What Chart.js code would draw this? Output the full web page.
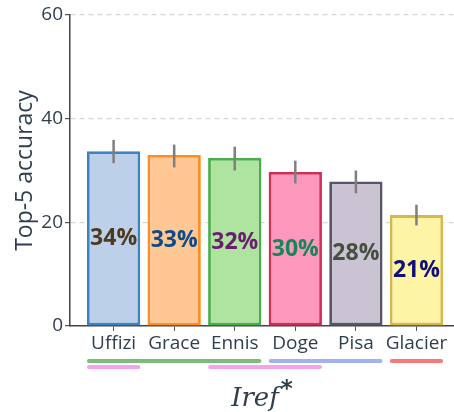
<!DOCTYPE html>
<html>
<head>
<meta charset="utf-8">
<script src="https://cdn.jsdelivr.net/npm/chart.js@4/dist/chart.umd.min.js"></script>
<style>
  html, body { margin: 0; padding: 0; background: #fff; }
  #wrap { width: 454px; height: 412px; }
</style>
</head>
<body>
<div id="wrap"><canvas id="accChart" width="454" height="412"></canvas></div>
<script>
// Top-5 accuracy per reference site
const sites = ['Uffizi', 'Grace', 'Ennis', 'Doge', 'Pisa', 'Glacier'];
const accuracy = [33.7, 33.0, 32.4, 29.7, 27.9, 21.4];
const errLow = [31.4, 30.6, 30.0, 27.5, 25.6, 19.4];
const errHigh = [35.9, 35.0, 34.6, 31.9, 30.0, 23.4];
const yTicks = [0, 20, 40, 60];

// which sites share a group, drawn as underlines below the axis
const groupFrom = [0, 0, 2, 3, 5];
const groupTo = [2, 0, 3, 4, 5];
const groupRow = [0, 1, 1, 0, 0];
const groupColor = ['#7dbb7d', '#f2a2ee', '#f2a2ee', '#a2b2ee', '#f77a7a'];

const fillColors = ['#bcd0ea', '#fec794', '#aee3a0', '#fd98bd', '#c9c3d3', '#fdf4a6'];
const edgeColors = ['#3c84c0', '#ff8c22', '#4aae4a', '#d42c58', '#5a5468', '#d8b84a'];
const labelColors = ['#4e3a1e', '#0d4a8c', '#6b1d70', '#13875a', '#474f3f', '#10107a'];

const textColor = '#2f3e4e';
const barFrac = 0.88;

// error bars, percentage labels, group underlines and axis title
const extras = {
    id: 'extras',
    afterDatasetsDraw(chart) {
        const ctx = chart.ctx;
        const x = chart.scales.x;
        const y = chart.scales.y;
        const area = chart.chartArea;

        ctx.save();
        // error bars
        ctx.strokeStyle = '#7f7f7f';
        ctx.lineWidth = 2.5;
        sites.forEach((s, i) => {
            const px = x.getPixelForValue(i);
            ctx.beginPath();
            ctx.moveTo(px, y.getPixelForValue(errLow[i]));
            ctx.lineTo(px, y.getPixelForValue(errHigh[i]));
            ctx.stroke();
        });

        // value labels at mid-height of each bar
        ctx.font = 'bold 23px "Open Sans"';
        ctx.textAlign = 'center';
        ctx.textBaseline = 'middle';
        accuracy.forEach((v, i) => {
            ctx.fillStyle = labelColors[i];
            ctx.fillText(Math.round(v) + '%', x.getPixelForValue(i), y.getPixelForValue(v / 2));
        });

        // group underlines
        ctx.lineCap = 'round';
        ctx.lineWidth = 4;
        groupFrom.forEach((from, g) => {
            const x0 = x.getPixelForValue(from - barFrac / 2) + 2;
            const x1 = x.getPixelForValue(groupTo[g] + barFrac / 2) - 2;
            const py = area.bottom + 35 + groupRow[g] * 6;
            ctx.strokeStyle = groupColor[g];
            ctx.beginPath();
            ctx.moveTo(x0, py);
            ctx.lineTo(x1, py);
            ctx.stroke();
        });

        // x axis title: Iref with a raised asterisk
        const cx = (area.left + area.right) / 2;
        ctx.fillStyle = textColor;
        ctx.textBaseline = 'alphabetic';
        ctx.textAlign = 'left';
        ctx.font = 'italic 26px "DejaVu Serif"';
        const w = ctx.measureText('Iref').width;
        ctx.font = 'bold 23px "DejaVu Sans"';
        const ws = ctx.measureText('*').width;
        const left = cx - (w + ws + 2) / 2;
        ctx.font = 'italic 26px "DejaVu Serif"';
        ctx.fillText('Iref', left, area.bottom + 80);
        ctx.font = 'bold 23px "DejaVu Sans"';
        ctx.fillText('*', left + w + 2, area.bottom + 70);
        ctx.restore();
    }
};

const ctx = document.getElementById('accChart').getContext('2d');
const accChart = new Chart(ctx, {
    type: 'bar',
    data: {
        datasets: [{
            data: accuracy.map((v, i) => ({ x: i, y: v })),
            backgroundColor: fillColors,
            borderColor: edgeColors,
            borderWidth: 2.8,
            borderSkipped: false,
            barPercentage: barFrac,
            categoryPercentage: 1
        }]
    },
    options: {
        responsive: false,
        animation: false,
        layout: { padding: { top: 15, right: 0, left: 0, bottom: 0 } },
        plugins: {
            legend: { display: false },
            tooltip: { enabled: false }
        },
        scales: {
            x: {
                type: 'linear',
                offset: false,
                min: -0.72,
                max: 5.62,
                afterBuildTicks(axis) {
                    axis.ticks = sites.map((s, i) => ({ value: i }));
                },
                afterFit(axis) { axis.height = 86; },
                ticks: {
                    callback: (v) => sites[v],
                    color: textColor,
                    font: { family: 'Open Sans', size: 19 },
                    padding: 1,
                    maxRotation: 0,
                    autoSkip: false
                },
                grid: { offset: false, drawOnChartArea: false, tickLength: 5, color: '#555', tickWidth: 1 },
                border: { color: '#444', width: 1.5 }
            },
            y: {
                min: 0,
                max: 60,
                afterBuildTicks(axis) {
                    axis.ticks = yTicks.map(v => ({ value: v }));
                },
                afterFit(axis) { axis.width = 70; },
                ticks: {
                    color: textColor,
                    font: { family: 'Open Sans', size: 19 },
                    padding: 2
                },
                grid: {
                    color: (c) => c.tick && c.tick.value === 0 ? 'rgba(0,0,0,0)' : '#d6d6d6',
                    lineWidth: 1.2,
                    tickColor: '#555',
                    tickLength: 5,
                    tickBorderDash: []
                },
                border: { color: '#444', width: 1.5, dash: [5, 4] },
                title: {
                    display: true,
                    text: 'Top-5 accuracy',
                    color: textColor,
                    font: { family: 'Open Sans', size: 23 },
                    padding: { top: 12, bottom: 4 }
                }
            }
        }
    },
    plugins: [extras]
});
</script>
</body>
</html>
